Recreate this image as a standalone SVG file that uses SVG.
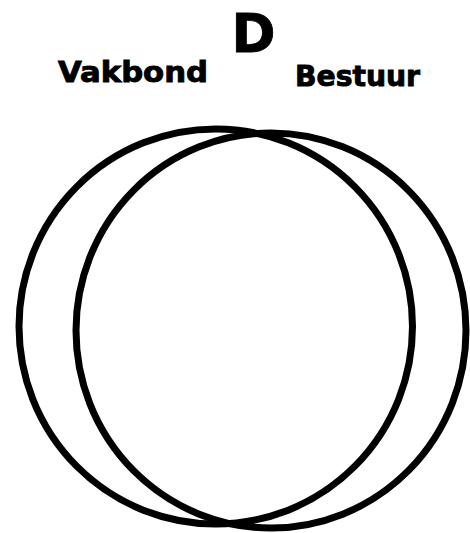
<svg xmlns="http://www.w3.org/2000/svg" width="470" height="533" viewBox="0 0 470 533">
<style>
.lbl{font-family:"DejaVu Sans","Liberation Sans",sans-serif;font-weight:bold;fill:#000;stroke:#000;stroke-width:0.9}
.c{fill:none;stroke:#000;stroke-width:7}
</style>
<rect width="470" height="533" fill="#fff"/>
<g id="title"><text class="lbl" x="253.5" y="52" font-size="54" text-anchor="middle" stroke-width="3" textLength="44" lengthAdjust="spacingAndGlyphs">D</text></g>
<g id="vakbond">
<ellipse class="c" cx="215.75" cy="326.5" rx="196.75" ry="197.5"/>
<text class="lbl" x="58" y="82" font-size="28" textLength="150" lengthAdjust="spacingAndGlyphs">Vakbond</text>
</g>
<g id="bestuur">
<ellipse class="c" cx="271" cy="330.5" rx="195" ry="197.5"/>
<text class="lbl" x="295" y="86" font-size="28" textLength="125" lengthAdjust="spacingAndGlyphs">Bestuur</text>
</g>
<g id="connectors"/>
</svg>
